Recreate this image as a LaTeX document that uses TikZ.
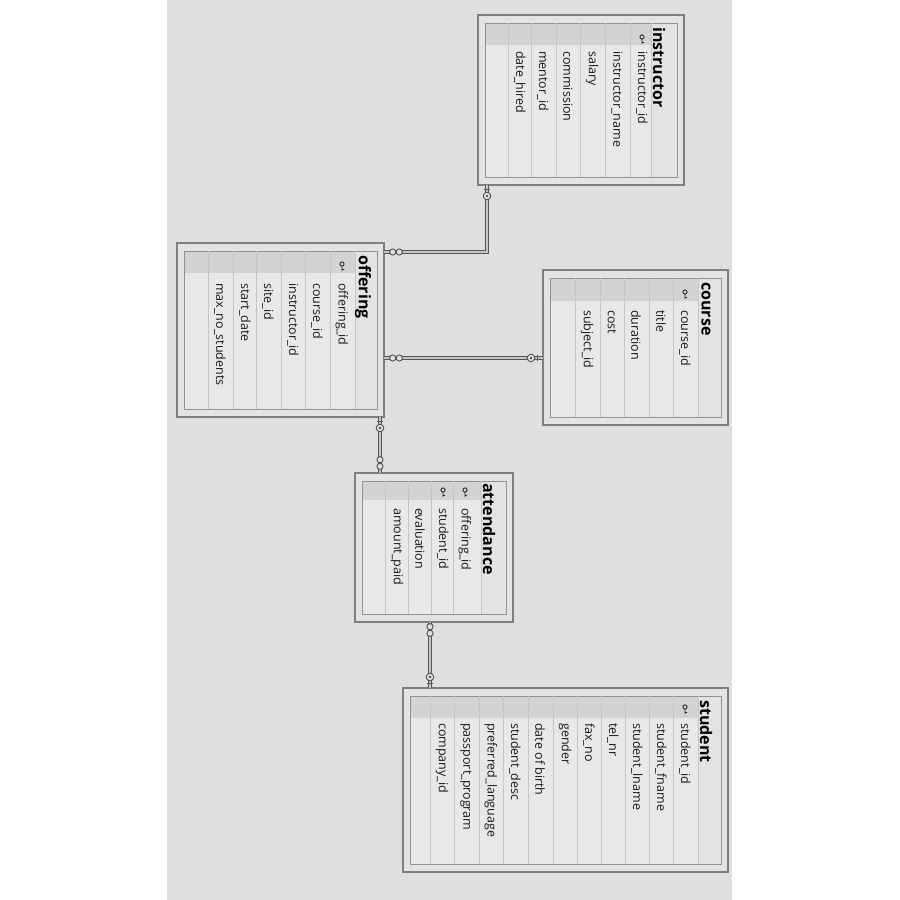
\documentclass[tikz,border=0pt]{standalone}
\usepackage{fontspec}
\setmainfont{Open Sans}
\definecolor{bgg}{HTML}{DFDFDF}
\definecolor{tblfill}{HTML}{E3E3E3}
\definecolor{tbldraw}{HTML}{7E7E7E}
\definecolor{listfill}{HTML}{E8E8E8}
\definecolor{bandfill}{HTML}{D3D3D3}
\definecolor{gridc}{HTML}{C6C6C6}
\definecolor{linec}{HTML}{555555}
\newcommand\ertable[7]{%
  \node[tbl, minimum width={(#4-#2)*1pt}, minimum height={(#5-#3)*1pt}] (#1) at ({(#2+#4)/2},{(#3+#5)/2}) {};
  \fill[listfill] (#2+7,#3+8) rectangle (#6,#5-8);
  \fill[bandfill] (#2+7,#3+8) rectangle (#6,#7);
  \draw[innerframe] (#2+7,#3+8) rectangle (#4-7,#5-8);
  \draw[gridline] (#6,#3+8) -- (#6,#5-8);
}
\newcommand\keyicon[2]{%
  \draw[keyst] (#1,#2-3) circle (2.1) (#1,#2-1) -- (#1,#2+4) (#1,#2+2.5) -- (#1+2,#2+2.5);
}
\begin{document}
\begin{tikzpicture}[x=1pt,y=-1pt,
  tbl/.style={draw=tbldraw, line width=1.2pt, fill=tblfill, inner sep=0pt, outer sep=0pt},
  innerframe/.style={draw=tbldraw!85, line width=0.9pt},
  gridline/.style={draw=gridc, line width=0.6pt},
  attr/.style={rotate=-90, anchor=west, inner sep=0pt, text=black!90, font=\fontsize{12.5}{14}\selectfont},
  ttl/.style={rotate=-90, anchor=west, inner sep=0pt, text=black, font=\fontsize{16}{18}\selectfont\bfseries},
  keyst/.style={draw=black!85, line width=0.9pt},
  conn/.style={draw=linec, line width=0.9pt, double=gray!45, double distance=1.4pt},
  sym/.style={draw=linec, line width=0.9pt, fill=bgg},
  many/.pic={\draw[sym] (-3.3,0) circle (3.1) (3.3,0) circle (3.1);},
  onekey/.pic={\draw[sym] (0,0) circle (3.8); \fill[linec] (0,0) circle (1.3); \draw[sym] (6.5,-3.2) -- (6.5,3.2);}
]
\useasboundingbox (0,0) rectangle (900,900);
\fill[white] (0,0) rectangle (900,900);
\fill[bgg] (167,0) rectangle (732,900);

% ---------- instructor ----------
\ertable{instructor}{478}{15}{684}{185}{651}{45}
\foreach \x in {642,617,592,568,543,520} \draw[gridline] (\x-12,23) -- (\x-12,177);
\node[ttl] (tInstr) at (659,27) {instructor};
\foreach \t/\x [count=\i] in {instructor\_id/642,instructor\_name/617,salary/592,commission/568,mentor\_id/543,date\_hired/520}
  \node[attr] (ai\i) at (\x,51) {\t};
\keyicon{642}{40}

% ---------- course ----------
\ertable{course}{543}{270}{728}{425}{698}{301}
\foreach \x in {685,661,636,612,587} \draw[gridline] (\x-12,278) -- (\x-12,417);
\node[ttl] (tCourse) at (706,282) {course};
\foreach \t/\x [count=\i] in {course\_id/685,title/661,duration/636,cost/612,subject\_id/587}
  \node[attr] (ac\i) at (\x,310) {\t};
\keyicon{685}{295}

% ---------- offering ----------
\ertable{offering}{177}{243}{384}{417}{355}{273}
\foreach \x in {342,317,293,268,245,220} \draw[gridline] (\x-12,251) -- (\x-12,409);
\node[ttl] (tOff) at (363,255) {offering};
\foreach \t/\x [count=\i] in {offering\_id/342,course\_id/317,instructor\_id/293,site\_id/268,start\_date/245,max\_no\_students/220}
  \node[attr] (ao\i) at (\x,283) {\t};
\keyicon{342}{267}

% ---------- attendance ----------
\ertable{attendance}{355}{473}{513}{622}{481}{500}
\foreach \x in {465,443,420,397} \draw[gridline] (\x-11.5,481) -- (\x-11.5,614);
\node[ttl] (tAtt) at (489,483) {attendance};
\foreach \t/\x [count=\i] in {offering\_id/465,student\_id/443,evaluation/420,amount\_paid/397}
  \node[attr] (aa\i) at (\x,508) {\t};
\keyicon{465}{493}
\keyicon{443}{493}

% ---------- student ----------
\ertable{student}{403}{688}{728}{872}{698}{718}
\foreach \x in {685,661,637,613,589,565,540,515,491,466,442} \draw[gridline] (\x-12,696) -- (\x-12,864);
\node[ttl] (tStu) at (706,700) {student};
\foreach \t/\x [count=\i] in {student\_id/685,student\_fname/661,student\_lname/637,tel\_nr/613,fax\_no/589,gender/565,date of birth/540,student\_desc/515,preferred\_language/491,passport\_program/466,company\_id/442}
  \node[attr] (as\i) at (\x,723) {\t};
\keyicon{685}{710}

% ---------- connectors ----------
\draw[conn] (instructor.south -| 487,0) |- (offering.east |- 0,252);
\draw[conn] (course.west |- 0,358) -- (offering.east |- 0,358);
\draw[conn] (offering.south -| 380,0) -- (attendance.north -| 380,0);
\draw[conn] (attendance.south -| 430,0) -- (student.north -| 430,0);

\pic[rotate=90] at (487,196) {onekey};
\pic at (396,252) {many};
\pic at (531,358) {onekey};
\pic at (396,358) {many};
\pic[rotate=90] at (380,428) {onekey};
\pic[rotate=90] at (380,463) {many};
\pic[rotate=90] at (430,630) {many};
\pic[rotate=-90] at (430,677) {onekey};
\end{tikzpicture}
\end{document}
